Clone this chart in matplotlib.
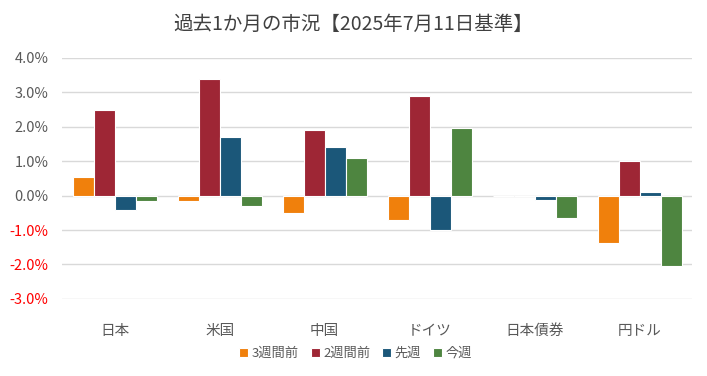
import matplotlib
matplotlib.use("Agg")
import matplotlib.pyplot as plt
import numpy as np
from matplotlib.ticker import FuncFormatter

plt.rcParams['font.family'] = ['Noto Sans CJK JP', 'DejaVu Sans']

categories = ["日本", "米国", "中国", "ドイツ", "日本債券", "円ドル"]
series_names = ["3週間前", "2週間前", "先週", "今週"]
w3 = [0.55, -0.15, -0.50, -0.70, 0.00, -1.37]
w2 = [2.48, 3.40, 1.90, 2.90, 0.00, 1.00]
w1 = [-0.43, 1.70, 1.40, -1.00, -0.12, 0.10]
w0 = [-0.15, -0.30, 1.10, 1.95, -0.65, -2.03]
colors = ["#F0800C", "#9E2635", "#1B5779", "#4E8540"]
title = "過去1か月の市況【2025年7月11日基準】"

fig = plt.figure(figsize=(7.07, 3.76), dpi=100)
ax = fig.add_axes([0.088, 0.205, 0.891, 0.641])

x = np.arange(len(categories))
bw = 0.2
for i, (vals, name, c) in enumerate(zip([w3, w2, w1, w0], series_names, colors)):
    ax.bar(x + (i - 1.5) * bw, vals, width=bw, color=c, edgecolor="white",
           linewidth=0.8, label=name, zorder=3)

ax.set_xlim(-0.5, 5.5)
ax.set_ylim(-3, 4)
ax.set_yticks(np.arange(-3, 5, 1))
ax.yaxis.set_major_formatter(FuncFormatter(lambda v, p: f"{v:.1f}%"))
ax.grid(axis="y", color="#D9D9D9", linewidth=1, zorder=0)
ax.set_xticks(x)
ax.set_xticklabels(categories)
for s in ax.spines.values():
    s.set_visible(False)
ax.tick_params(axis="both", length=0, labelsize=10.5, colors="#595959")
ax.tick_params(axis="x", pad=18)
ax.tick_params(axis="y", pad=10)
for lbl, v in zip(ax.get_yticklabels(), np.arange(-3, 5, 1)):
    if v < 0:
        lbl.set_color("#FF0000")

fig.text(0.5, 0.935, title, ha="center", va="center", fontsize=14, color="#404040")
handles, labels = ax.get_legend_handles_labels()
fig.legend(handles, labels, loc="center", bbox_to_anchor=(0.503, 0.06), ncol=4, frameon=False,
           fontsize=9.5, handlelength=0.7, handleheight=0.7, handletextpad=0.25,
           columnspacing=0.9, labelcolor="#595959")

fig.savefig("out.png", dpi=100)
